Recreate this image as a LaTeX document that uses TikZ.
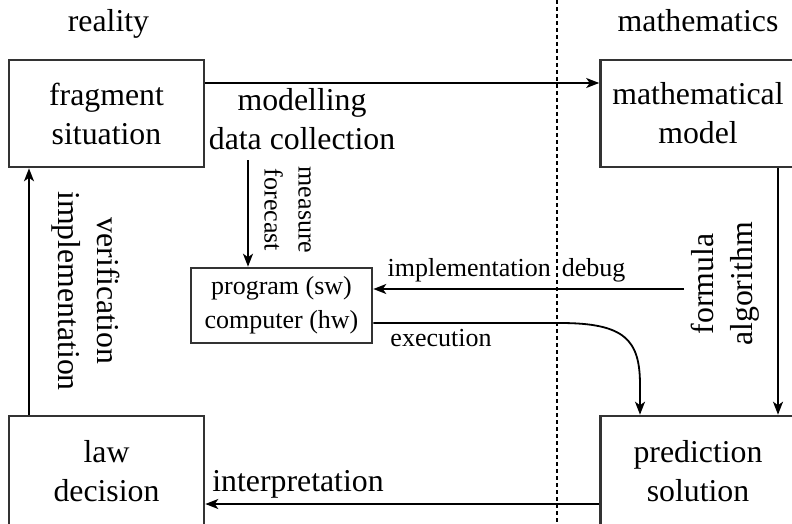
\documentclass[tikz,border=0pt]{standalone}
\usepackage{fontspec}
\setmainfont{Liberation Serif}
\usetikzlibrary{arrows.meta, positioning}
\newcommand\bigtext{\fontsize{31.8}{39}\selectfont}
\newcommand\smalltext{\fontsize{26}{34}\selectfont}

\begin{document}
\begin{tikzpicture}[x=1pt, y=-1pt,
every node/.append style = {inner sep=1.5pt},
  block/.style = {draw=black!80, line width=2.6pt, align=center, font=\bigtext,
                  minimum width=195pt, minimum height=#1},
block/.default = 107pt,
   flow/.style = {line width=1.8pt, -{Stealth[length=13pt, width=10pt, inset=3.5pt]}},
    tag/.style = {font=\bigtext, align=center},
   note/.style = {font=\smalltext, align=center},
divider/.style = {line width=1.3pt, dash pattern=on 4pt off 3pt}
                    ]
\useasboundingbox (0,0) rectangle (792,524);
\clip (0,0) rectangle (792,524);
%nodes
\node (fs)     [block]        at (106.5,113.5) {fragment\\situation};
\node (mm)     [block]        at (698,113.5)   {mathematical\\model};
\node (law)    [block=110pt]  at (106.5,471)   {law\\decision};
\node (ps)     [block=110pt]  at (698,471)     {prediction\\solution};
\node (prog)   [block, font=\smalltext,
                minimum width=181pt,
                minimum height=75pt] at (281.5,305.5) {program (sw)\\computer (hw)};
%
\node (reality) [tag, anchor=base] at (108.5,32)  {reality};
\node (maths)   [tag, anchor=base] at (698,32)    {mathematics};
\node (model)   [tag]              at (302,119)   {modelling\\data collection};
\node (verif)   [tag, rotate=-90]  at (85.5,291)  {verification\\implementation};
\node (algo)    [tag, rotate=90]   at (725,284)   {formula\\algorithm};
\node (meas)    [note, rotate=-90] at (287.5,210) {measure\\forecast};
\node (debug)   [note, anchor=base] at (506.5,276) {implementation\hspace{11pt}debug};
\node (exec)    [note, anchor=base] at (441,346)  {execution};
\node (interp)  [tag, anchor=base]  at (298,491)  {interpretation};
%
\coordinate (swin)  at (prog.east |- 0,289);
\coordinate (hwout) at (prog.east |- 0,323);
\coordinate (feed)  at (248,160);
% edges
\draw[divider] (557,0) -- (557,524);
\draw[flow] ([yshift=30.5pt]fs.east)   -- ([yshift=30.5pt]mm.west);
\draw[flow] (feed)                     -- (feed |- prog.north);
\draw[flow] ([xshift=-5pt]algo.north |- swin) -- (swin);
\draw[flow] (hwout) -- (560,323) .. controls (625,323) and (640,340) .. (640,385)
            -- ([xshift=-58pt]ps.north);
\draw[flow] ([xshift=80pt]mm.south)    -- ([xshift=80pt]ps.north);
\draw[flow] ([yshift=-33pt]ps.west)    -- ([yshift=-33pt]law.east);
\draw[flow] ([xshift=-77.5pt]law.north) -- ([xshift=-77.5pt]fs.south);
\end{tikzpicture}
\end{document}
